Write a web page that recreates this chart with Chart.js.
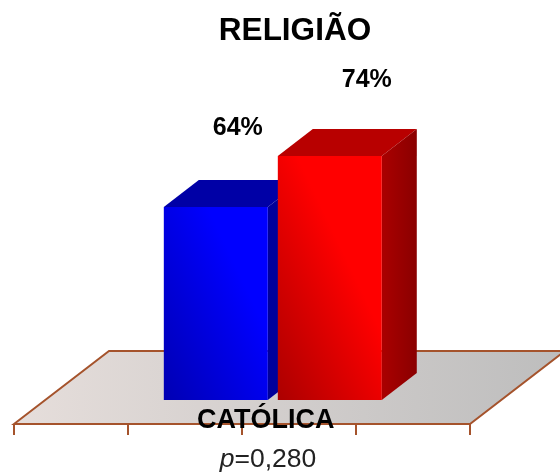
<!DOCTYPE html>
<html>
<head>
<meta charset="utf-8">
<style>
  html, body { margin: 0; padding: 0; background: #fff; }
  canvas { display: block; }
</style>
<script src="https://cdn.jsdelivr.net/npm/chart.js@4"></script>
</head>
<body>
<canvas id="chart" width="560" height="474"></canvas>
<script>
// dados
const categories = ["CATÓLICA"];
const serieAzul = [64];
const serieVermelha = [74];
const pValor = "=0,280";

const FONT = '"Liberation Sans", Arial, sans-serif';
const DEPTH_X = 35, DEPTH_Y = 27;
const FLOOR_DX = 95, FLOOR_DY = 73, FLOOR_SHIFT = 30.8, FLOOR_DROP = 24;
const BROWN = "#a5532c";

const palette = [
  { dark: "#0000b0", bright: "#0000ff", top: "#0000a6", side: "#00009c", sideEnd: "#000090", dx: 22, dy: 79 },
  { dark: "#a80000", bright: "#ff0000", top: "#b80000", side: "#aa0000", sideEnd: "#8a0000", dx: 37, dy: 76 },
];

function frontGradient(c) {
  const { chart, datasetIndex, parsed } = c;
  const p = palette[datasetIndex];
  if (!chart.chartArea || !parsed) return p.bright;
  const xs = chart.scales.x, ys = chart.scales.y;
  const chunk = xs.width / 4;
  const left = xs.left + xs.width / 2 - chunk + chunk * datasetIndex;
  const g = chart.ctx.createLinearGradient(left, ys.bottom, left + 115, ys.bottom - 55);
  g.addColorStop(0, p.dark);
  g.addColorStop(1, p.bright);
  return g;
}

function poly(ctx, pts, fill) {
  ctx.beginPath();
  pts.forEach((pt, i) => (i ? ctx.lineTo(pt[0], pt[1]) : ctx.moveTo(pt[0], pt[1])));
  ctx.closePath();
  ctx.fillStyle = fill;
  ctx.fill();
}

// piso e faces laterais, por baixo das barras
const fake3d = {
  id: "fake3d",
  beforeDatasetsDraw(chart) {
    const { ctx, chartArea: a } = chart;
    const fl = a.left - FLOOR_SHIFT, fr = fl + a.width, fy = a.bottom + FLOOR_DROP;
    ctx.save();
    const g = ctx.createLinearGradient(fl, 0, fr + FLOOR_DX, 0);
    g.addColorStop(0, "#e6dedb");
    g.addColorStop(1, "#bdbdbd");
    ctx.beginPath();
    ctx.moveTo(fl, fy);
    ctx.lineTo(fl + FLOOR_DX, fy - FLOOR_DY);
    ctx.lineTo(fr + FLOOR_DX, fy - FLOOR_DY);
    ctx.lineTo(fr, fy);
    ctx.closePath();
    ctx.fillStyle = g;
    ctx.fill();
    ctx.strokeStyle = BROWN;
    ctx.lineWidth = 2;
    ctx.stroke();
    for (let i = 0; i <= 4; i++) {
      const x = fl + (a.width / 4) * i;
      ctx.beginPath();
      ctx.moveTo(x, fy);
      ctx.lineTo(x, fy + 11);
      ctx.stroke();
    }
    chart.data.datasets.forEach((ds, i) => {
      const bar = chart.getDatasetMeta(i).data[0];
      const l = bar.x - bar.width / 2, r = bar.x + bar.width / 2;
      const t = bar.y, b = a.bottom;
      const sg = ctx.createLinearGradient(r, 0, r + DEPTH_X, 0);
      sg.addColorStop(0, palette[i].side);
      sg.addColorStop(1, palette[i].sideEnd);
      poly(ctx, [[l, t], [l + DEPTH_X, t - DEPTH_Y], [r + DEPTH_X, t - DEPTH_Y], [r, t]], palette[i].top);
      poly(ctx, [[r, t], [r + DEPTH_X, t - DEPTH_Y], [r + DEPTH_X, b - DEPTH_Y], [r, b]], sg);
    });
    ctx.restore();
  },
  afterDraw(chart) {
    const { ctx } = chart;
    ctx.save();
    ctx.fillStyle = "#000";
    ctx.textBaseline = "middle";
    ctx.textAlign = "center";
    // titulo
    ctx.font = "bold 31.5px " + FONT;
    ctx.fillText("RELIGIÃO", 295, 31);
    // rotulos de valor
    ctx.font = "bold 25px " + FONT;
    chart.data.datasets.forEach((ds, i) => {
      const bar = chart.getDatasetMeta(i).data[0];
      ctx.fillText(ds.data[0] + "%", bar.x + palette[i].dx, bar.y - palette[i].dy);
    });
    // valor de p
    ctx.textAlign = "left";
    ctx.font = "italic 26.5px " + FONT;
    const pw = ctx.measureText("p").width;
    ctx.font = "26.5px " + FONT;
    const w = pw + ctx.measureText(pValor).width;
    const x0 = 268 - w / 2;
    ctx.fillStyle = "#222";
    ctx.fillText(pValor, x0 + pw, 460);
    ctx.font = "italic 26.5px " + FONT;
    ctx.fillText("p", x0, 460);
    ctx.restore();
  },
};

new Chart(document.getElementById("chart"), {
  type: "bar",
  data: {
    labels: categories,
    datasets: [
      { label: "Grupo 1", data: serieAzul, backgroundColor: frontGradient },
      { label: "Grupo 2", data: serieVermelha, backgroundColor: frontGradient },
    ],
  },
  options: {
    responsive: false,
    animation: false,
    layout: { padding: { left: 44.8, right: 59.2, top: 54, bottom: 0 } },
    categoryPercentage: 0.5,
    barPercentage: 0.912,
    plugins: { legend: { display: false }, tooltip: { enabled: false } },
    scales: {
      x: {
        grid: { display: false },
        border: { display: false },
        afterFit: (s) => { s.height = 74; },
        ticks: {
          z: 1,
          color: "#000",
          padding: -4,
          labelOffset: -7,
          maxRotation: 0,
          font: { family: FONT, size: 27, weight: "bold" },
        },
      },
      y: { display: false, min: 26.2, max: 94 },
    },
  },
  plugins: [fake3d],
});
</script>
</body>
</html>
